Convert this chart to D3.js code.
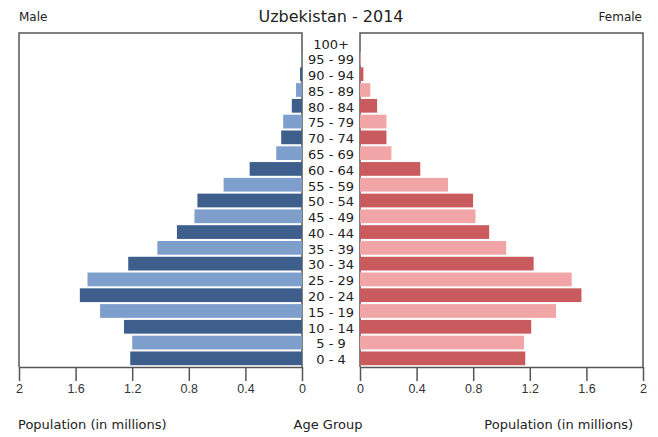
<!DOCTYPE html>
<html>
<head>
<meta charset="utf-8">
<script src="https://cdn.jsdelivr.net/npm/d3@7"></script>
<style>
  body { margin: 0; background: #fff; }
  svg { display: block; font-family: "DejaVu Sans", sans-serif; }
  .axis path, .axis line { stroke: #555; stroke-width: 1.5; }
  .axis text { fill: #333; font-size: 12.5px; }
</style>
</head>
<body>
<svg class="chart" width="658" height="437"></svg>
<script>
// age groups, bottom to top
var ageGroups = ["0 - 4", "5 - 9", "10 - 14", "15 - 19", "20 - 24", "25 - 29", "30 - 34",
  "35 - 39", "40 - 44", "45 - 49", "50 - 54", "55 - 59", "60 - 64", "65 - 69",
  "70 - 74", "75 - 79", "80 - 84", "85 - 89", "90 - 94", "95 - 99", "100+"];

// population in millions
var maleValues = [1.214, 1.2, 1.258, 1.427, 1.57, 1.516, 1.228, 1.022, 0.884, 0.76, 0.739,
  0.554, 0.37, 0.182, 0.147, 0.133, 0.072, 0.042, 0.014, 0.003, 0.001];
var femaleValues = [1.168, 1.159, 1.21, 1.385, 1.565, 1.496, 1.227, 1.033, 0.913, 0.816, 0.799,
  0.622, 0.426, 0.222, 0.187, 0.187, 0.121, 0.073, 0.024, 0.005, 0.001];

var xTicks = [0, 0.4, 0.8, 1.2, 1.6, 2];

var maleColors = ["#3e5e8b", "#7e9ecc"];
var femaleColors = ["#c95b5f", "#f2a5a6"];

var svg = d3.select(".chart");
var plotTop = 33, plotBottom = 367;

var xLeft = d3.scaleLinear().domain([0, 2]).range([302, 19]);
var xRight = d3.scaleLinear().domain([0, 2]).range([360, 643]);
var yScale = d3.scaleBand()
    .domain(ageGroups.slice().reverse())
    .range([plotTop + 2, plotBottom - 1])
    .paddingInner(0.13)
    .paddingOuter(0.05);

var data = ageGroups.map(function (a, i) {
    return {age: a, male: maleValues[i], female: femaleValues[i], i: i};
});

// frames
[[xLeft(2), xLeft(0)], [xRight(0), xRight(2)]].forEach(function (r) {
    svg.append("path")
        .attr("d", "M" + r[0] + "," + plotBottom + "V" + plotTop + "H" + r[1] + "V" + plotBottom)
        .attr("fill", "none")
        .attr("stroke", "#555")
        .attr("stroke-width", 1.5);
});

svg.append("g").selectAll("rect")
    .data(data)
    .enter().append("rect")
      .attr("x", function (d) { return xLeft(d.male); })
      .attr("y", function (d) { return yScale(d.age); })
      .attr("width", function (d) { return xLeft(0) - xLeft(d.male); })
      .attr("height", yScale.bandwidth())
      .attr("fill", function (d) { return maleColors[d.i % 2]; });

svg.append("g").selectAll("rect")
    .data(data)
    .enter().append("rect")
      .attr("x", xRight(0))
      .attr("y", function (d) { return yScale(d.age); })
      .attr("width", function (d) { return xRight(d.female) - xRight(0); })
      .attr("height", yScale.bandwidth())
      .attr("fill", function (d) { return femaleColors[d.i % 2]; });

// age labels
svg.append("g").selectAll("text")
    .data(data)
    .enter().append("text")
      .attr("x", 331)
      .attr("y", function (d) { return yScale(d.age) + yScale.bandwidth() / 2; })
      .attr("dy", "0.45em")
      .attr("text-anchor", "middle")
      .attr("font-size", "13px")
      .attr("fill", "#222")
      .text(function (d) { return d.age; });

// axes
svg.append("g")
    .attr("class", "axis")
    .attr("transform", "translate(0," + plotBottom + ")")
    .call(d3.axisBottom(xLeft).tickValues(xTicks).tickSize(14).tickSizeOuter(0).tickFormat(d3.format("")));

svg.append("g")
    .attr("class", "axis")
    .attr("transform", "translate(0," + plotBottom + ")")
    .call(d3.axisBottom(xRight).tickValues(xTicks).tickSize(14).tickSizeOuter(0).tickFormat(d3.format("")));

svg.selectAll(".axis .tick text").attr("dy", "0.75em");

// titles
svg.append("text")
    .attr("x", 331)
    .attr("y", 22)
    .attr("text-anchor", "middle")
    .attr("font-size", "16px")
    .attr("fill", "#222")
    .text("Uzbekistan - 2014");

svg.append("text")
    .attr("x", 19).attr("y", 21)
    .attr("font-size", "12px").attr("fill", "#222")
    .text("Male");

svg.append("text")
    .attr("x", 642).attr("y", 21)
    .attr("text-anchor", "end")
    .attr("font-size", "12px").attr("fill", "#222")
    .text("Female");

svg.append("text")
    .attr("x", 18).attr("y", 429)
    .attr("font-size", "13px").attr("fill", "#222")
    .text("Population (in millions)");

svg.append("text")
    .attr("x", 328).attr("y", 429)
    .attr("text-anchor", "middle")
    .attr("font-size", "13px").attr("fill", "#222")
    .text("Age Group");

svg.append("text")
    .attr("x", 633).attr("y", 429)
    .attr("text-anchor", "end")
    .attr("font-size", "13px").attr("fill", "#222")
    .text("Population (in millions)");
</script>
</body>
</html>
